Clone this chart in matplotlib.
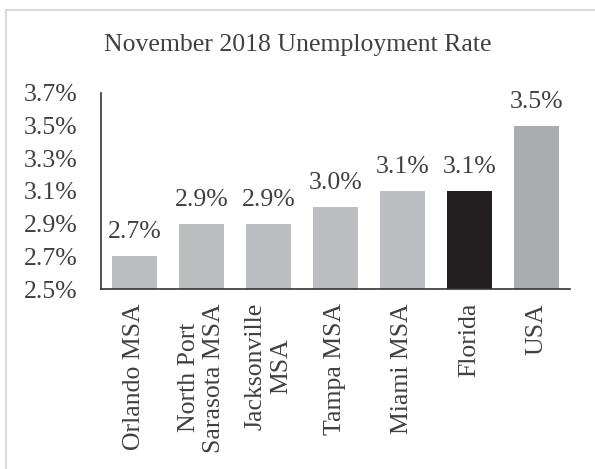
import matplotlib.pyplot as plt
from matplotlib.patches import Rectangle

plt.rcParams['font.family'] = ['Liberation Serif', 'DejaVu Serif']

categories = ['Orlando MSA', 'North Port\nSarasota MSA', 'Jacksonville\nMSA',
              'Tampa MSA', 'Miami MSA', 'Florida', 'USA']
rates = [2.7, 2.9, 2.9, 3.0, 3.1, 3.1, 3.5]
colors = ['#BDBEC1', '#BDBEC1', '#BDBEC1', '#BDBEC1', '#BDBEC1', '#231F20', '#ABACB0']
yticks = [2.5, 2.7, 2.9, 3.1, 3.3, 3.5, 3.7]

fig = plt.figure(figsize=(5.95, 4.69), dpi=100)
# light grey frame around the chart (cut off at right and bottom)
fig.patches.append(Rectangle((6 / 595, -0.05), 1.0, 1.05 - 10 / 469,
                             transform=fig.transFigure, fill=False,
                             edgecolor='#D9D9D9', linewidth=1.5))

ax = fig.add_axes([101 / 595, 1 - 289 / 469, 469 / 595, 196 / 469])
x = range(len(categories))
ax.bar(x, rates, width=0.67, color=colors)

ax.set_ylim(2.5, 3.7)
ax.set_xlim(-0.5, len(categories) - 0.5)
ax.set_yticks(yticks)
ax.set_yticklabels([f'{v:.1f}%' for v in yticks])
ax.set_xticks(list(x))
ax.set_xticklabels(categories, rotation=90, va='top', ha='center',
                   multialignment='center')
ax.tick_params(length=0, labelsize=18.5, colors='#404040')
ax.tick_params(axis='x', pad=10)
ax.tick_params(axis='y', pad=17)

for s in ['top', 'right']:
    ax.spines[s].set_visible(False)
for s in ['left', 'bottom']:
    ax.spines[s].set_color('#333333')
    ax.spines[s].set_linewidth(1.2)

for xi, v in zip(x, rates):
    ax.text(xi, v + 0.08, f'{v:.1f}%', ha='center', va='bottom',
            fontsize=18.5, color='#404040')

fig.text(0.5, 1 - 45 / 469, 'November 2018 Unemployment Rate', ha='center',
         va='center', fontsize=18.5, color='#404040')

fig.savefig('out.png', dpi=100)
